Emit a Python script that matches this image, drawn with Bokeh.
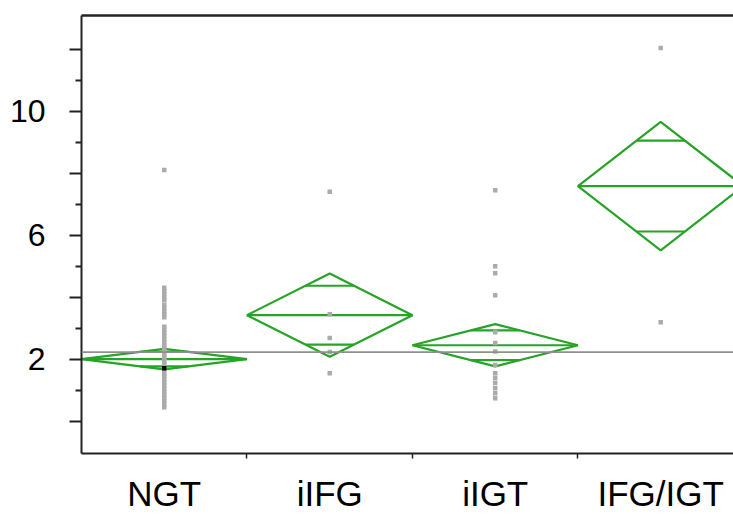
import math
from bokeh.plotting import figure
from bokeh.models import Range1d, FixedTicker, LinearAxis, Span
from bokeh.embed import file_html
from bokeh.resources import INLINE

# ---- data ----
groups = ["NGT", "iIFG", "iIGT", "IFG/IGT"]
means = [2.0, 3.42, 2.45, 7.58]
ci_half = [0.33, 1.34, 0.68, 2.07]
grand_mean = 2.23

ngt_pts = [8.1, 4.3, 4.2, 4.1, 4.0, 3.9, 3.75, 3.65, 3.55, 3.45, 3.35,
           3.05, 2.95, 2.85, 2.75, 2.65, 2.55, 2.45, 2.35, 2.25, 2.15, 2.05,
           1.95, 1.85, 1.75, 1.65, 1.55, 1.45, 1.35, 1.25, 1.15, 1.05, 0.95,
           0.85, 0.75, 0.65, 0.55, 0.45]
iifg_pts = [7.4, 3.45, 2.68, 2.23, 1.55]
iigt_pts = [7.45, 5.0, 4.77, 4.06, 2.87, 2.52, 2.25, 1.81, 1.55, 1.39,
            1.23, 1.06, 0.9, 0.74]
ifgigt_pts = [12.03, 3.19]
highlight_group = "NGT"
highlight_value = 1.71

y_major = [0, 2, 4, 6, 8, 10, 12]
y_minor = [1, 3, 5, 7, 9, 11]
y_labels = {0: "", 2: "2", 4: "", 6: "6", 8: "", 10: "10", 12: ""}

points = [ngt_pts, iifg_pts, iigt_pts, ifgigt_pts]

GREEN = "#27a327"
FONT = "Liberation Sans"

p = figure(width=733, height=516, output_backend="svg", toolbar_location=None,
           x_range=Range1d(0, 3.94), y_range=Range1d(-1.04, 13.08),
           min_border_left=81, min_border_right=0, min_border_top=15,
           min_border_bottom=63)
p.xgrid.visible = False
p.ygrid.visible = False
p.outline_line_color = None
p.background_fill_color = "white"

centers = [i + 0.5 for i in range(len(groups))]

# diamonds
dxs, dys = [], []
for c, m, h in zip(centers, means, ci_half):
    dxs.append([c - 0.5, c, c + 0.5, c, c - 0.5])
    dys.append([m, m + h, m, m - h, m])
p.patches(dxs, dys, fill_color=None, line_color=GREEN, line_width=2.2)

# mean lines
p.segment(x0=[c - 0.5 for c in centers], x1=[c + 0.5 for c in centers],
          y0=means, y1=means, line_color=GREEN, line_width=2.2)

# overlap marks
k = 1 / math.sqrt(2)
hw = 0.5 * (1 - k)
ox0, ox1, oy = [], [], []
for c, m, h in zip(centers, means, ci_half):
    for s in (1, -1):
        ox0.append(c - hw)
        ox1.append(c + hw)
        oy.append(m + s * h * k)
p.segment(x0=ox0, x1=ox1, y0=oy, y1=oy, line_color=GREEN, line_width=2.2)

# grand mean
p.add_layout(Span(location=grand_mean, dimension="width",
                  line_color="#8f8f8f", line_width=1.8))

# points
px, py = [], []
for c, vals in zip(centers, points):
    px += [c] * len(vals)
    py += vals
p.scatter(px, py, marker="square", size=4.5, fill_color="#ababab",
          line_color=None)
hc = centers[groups.index(highlight_group)]
p.scatter([hc], [highlight_value], marker="square", size=4.5,
          fill_color="black", line_color=None)

# y axis
ya = p.yaxis[0]
ya.ticker = FixedTicker(ticks=y_major, minor_ticks=y_minor)
ya.major_label_overrides = y_labels
ya.major_tick_out = 12
ya.major_tick_in = 0
ya.minor_tick_out = 6
ya.minor_tick_in = 0
ya.major_tick_line_width = 2
ya.minor_tick_line_width = 2
ya.major_tick_line_color = "#222222"
ya.minor_tick_line_color = "#222222"
ya.axis_line_width = 2
ya.axis_line_color = "#222222"
ya.major_label_standoff = 24
ya.major_label_text_align = "center"
ya.major_label_text_font = FONT
ya.major_label_text_font_size = "32px"
ya.major_label_text_color = "black"

# x axis
xa = p.xaxis[0]
xa.ticker = FixedTicker(ticks=centers, minor_ticks=[1, 2, 3])
xa.major_label_overrides = {c: g for c, g in zip(centers, groups)}
xa.major_tick_out = 0
xa.major_tick_in = 0
xa.minor_tick_out = 5
xa.minor_tick_in = 0
xa.minor_tick_line_color = "#222222"
xa.minor_tick_line_width = 1.5
xa.axis_line_width = 2
xa.axis_line_color = "#222222"
xa.major_label_standoff = 15
xa.major_label_text_font = FONT
xa.major_label_text_font_size = "35px"
xa.major_label_text_color = "black"

# top frame line
top = LinearAxis(ticker=FixedTicker(ticks=[]), major_tick_line_color=None,
                 minor_tick_line_color=None, major_label_text_font_size="0px",
                 axis_line_width=2.5, axis_line_color="#222222")
p.add_layout(top, "above")

open("out.html", "w").write(file_html(p, INLINE))
